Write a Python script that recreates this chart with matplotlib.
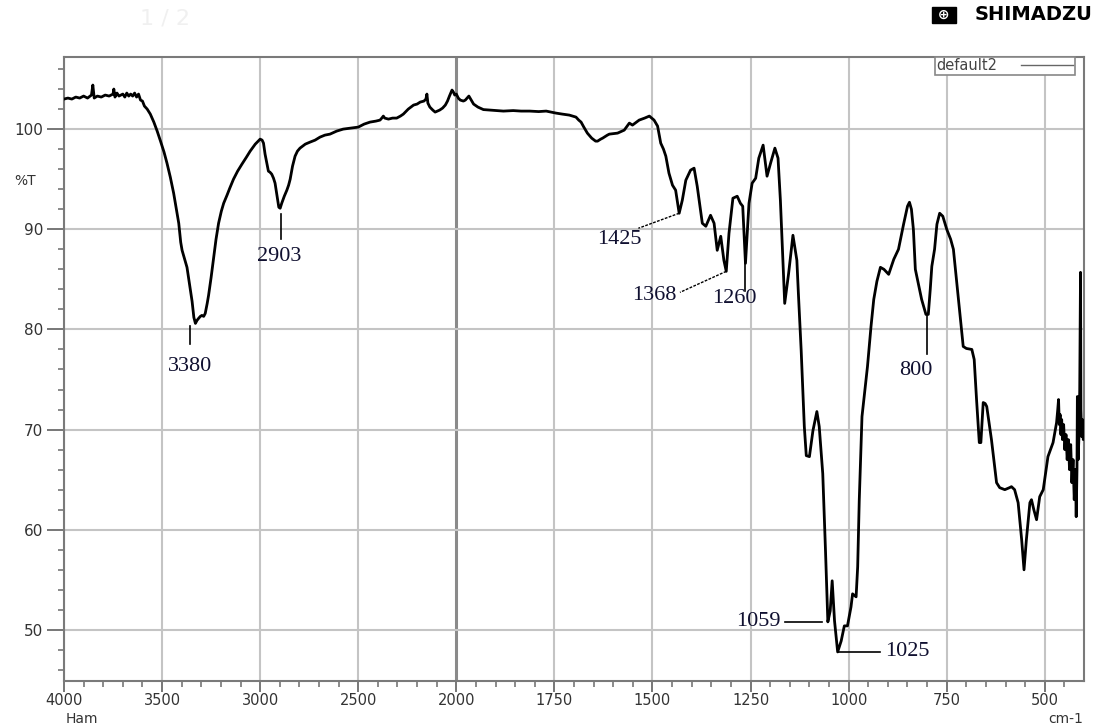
import matplotlib
matplotlib.use("Agg")
import matplotlib.pyplot as plt
import numpy as np
from matplotlib.lines import Line2D
from matplotlib.ticker import FixedLocator, NullFormatter

# FTIR spectrum (wavenumber cm-1, %T)
wavenumber = [
    4000, 3980, 3960, 3940, 3920, 3900, 3880, 3860, 3853, 3846, 3830, 3810,
    3790, 3770, 3750, 3746, 3740, 3730, 3720, 3700, 3690, 3680, 3670, 3660,
    3650, 3640, 3630, 3620, 3610, 3600, 3590, 3576, 3560, 3542, 3525, 3508,
    3490, 3475, 3458, 3441, 3428, 3415, 3405, 3398, 3385, 3373, 3360, 3347,
    3338, 3330, 3322, 3314, 3305, 3297, 3288, 3280, 3270, 3263, 3250, 3237,
    3225, 3212, 3198, 3186, 3175, 3169, 3155, 3136, 3115, 3093, 3070, 3051,
    3025, 3000, 2990, 2983, 2975, 2966, 2958, 2950, 2941, 2932, 2924, 2914,
    2905, 2898, 2890, 2877, 2864, 2855, 2847, 2835, 2822, 2810, 2797, 2770,
    2746, 2720, 2695, 2670, 2644, 2610, 2577, 2540, 2500, 2470, 2440, 2410,
    2389, 2380, 2372, 2365, 2346, 2325, 2304, 2285, 2270, 2245, 2218, 2200,
    2184, 2165, 2155, 2150, 2145, 2135, 2120, 2108, 2085, 2070, 2056, 2045,
    2035, 2022, 2015, 2008, 2000, 1995, 1990, 1982, 1977, 1968, 1962, 1956,
    1945, 1931, 1915, 1897, 1880, 1855, 1835, 1813, 1790, 1771, 1758, 1746,
    1730, 1712, 1703, 1695, 1688, 1682, 1675, 1666, 1655, 1645, 1640, 1632,
    1627, 1615, 1610, 1589, 1572, 1559, 1551, 1534, 1520, 1508, 1496, 1487,
    1479, 1472, 1466, 1458, 1449, 1441, 1432, 1424, 1415, 1403, 1394, 1386,
    1378, 1373, 1364, 1352, 1343, 1335, 1326, 1318, 1312, 1305, 1295, 1284,
    1276, 1270, 1263, 1254, 1246, 1237, 1229, 1218, 1208, 1199, 1188, 1180,
    1174, 1163, 1153, 1142, 1132, 1128, 1121, 1113, 1108, 1100, 1091, 1081,
    1075, 1066, 1059, 1053, 1047, 1042, 1036, 1028, 1019, 1011, 1003, 994,
    990, 981, 977, 973, 966, 952, 943, 936, 928, 919, 910, 898,
    885, 873, 860, 850, 845, 840, 835, 830, 822, 814, 803, 797,
    792, 788, 781, 775, 768, 760, 750, 740, 733, 720, 708, 700,
    686, 680, 674, 667, 663, 657, 652, 648, 636, 623, 615, 602,
    590, 585, 577, 568, 559, 553, 547, 538, 534, 528, 521, 513,
    504, 492, 479, 470, 467, 465, 463, 461, 459, 457, 455, 452,
    449, 446, 443, 440, 437, 434, 431, 428, 425, 422, 420, 418,
    417, 415, 413, 411, 409, 408, 406, 404, 402, 400,
]
transmittance = [
    103.0, 103.1, 103.0, 103.2, 103.1, 103.3, 103.1, 103.4, 104.4, 103.1, 103.3, 103.2,
    103.4, 103.3, 103.5, 104.0, 103.2, 103.6, 103.3, 103.5, 103.2, 103.6, 103.3, 103.5,
    103.3, 103.6, 103.2, 103.5, 102.9, 102.8, 102.3, 102.0, 101.5, 100.7, 99.8, 98.8,
    97.7, 96.6, 95.2, 93.6, 92.1, 90.6, 88.7, 87.9, 87.0, 86.2, 84.5, 82.8,
    81.2, 80.6, 80.9, 81.1, 81.3, 81.4, 81.3, 81.6, 82.6, 83.4, 85.2, 87.2,
    89.0, 90.6, 91.8, 92.6, 93.1, 93.4, 94.1, 95.0, 95.8, 96.5, 97.2, 97.8,
    98.5, 99.0, 98.9, 98.6, 97.5, 96.6, 95.8, 95.7, 95.5, 95.1, 94.6, 93.3,
    92.2, 92.1, 92.6, 93.3, 93.9, 94.4, 95.0, 96.3, 97.3, 97.8, 98.1, 98.5,
    98.7, 98.9, 99.2, 99.4, 99.5, 99.8, 100.0, 100.1, 100.2, 100.5, 100.7, 100.8,
    100.9, 101.1, 101.3, 101.1, 101.0, 101.1, 101.1, 101.3, 101.5, 102.0, 102.4, 102.5,
    102.7, 102.8, 103.0, 103.5, 102.6, 102.2, 101.9, 101.7, 101.9, 102.1, 102.4, 102.8,
    103.3, 103.9, 103.7, 103.4, 103.5, 103.1, 102.9, 102.8, 102.9, 103.3, 102.9, 102.5,
    102.2, 101.95, 101.9, 101.85, 101.8, 101.85, 101.8, 101.8, 101.75, 101.8, 101.7, 101.6,
    101.5, 101.4, 101.3, 101.2, 100.9, 100.7, 100.2, 99.6, 99.1, 98.8, 98.8, 99.0,
    99.1, 99.4, 99.5, 99.6, 99.9, 100.6, 100.4, 100.9, 101.1, 101.3, 100.9, 100.3,
    98.6, 98.0, 97.3, 95.6, 94.4, 93.9, 91.6, 92.9, 94.9, 95.9, 96.1, 94.3,
    92.0, 90.6, 90.3, 91.4, 90.6, 87.9, 89.3, 86.9, 85.8, 89.6, 93.1, 93.3,
    92.6, 92.3, 86.6, 92.6, 94.6, 95.1, 97.1, 98.4, 95.3, 96.6, 98.1, 97.1,
    92.9, 82.6, 85.6, 89.4, 86.9, 83.5, 77.9, 70.3, 67.4, 67.3, 69.9, 71.8,
    70.3, 65.6, 57.9, 50.8, 51.9, 54.9, 50.9, 47.8, 48.9, 50.4, 50.4, 52.3,
    53.6, 53.3, 56.3, 62.9, 71.3, 76.3, 80.3, 83.0, 84.8, 86.2, 86.0, 85.5,
    87.0, 88.0, 90.5, 92.3, 92.7, 92.0, 90.0, 86.0, 84.5, 83.0, 81.5, 81.5,
    84.0, 86.3, 88.0, 90.5, 91.6, 91.3, 90.0, 89.0, 88.0, 83.0, 78.3, 78.1,
    78.0, 77.0, 73.0, 68.7, 68.7, 72.7, 72.6, 72.3, 69.0, 64.7, 64.2, 64.0,
    64.2, 64.3, 64.0, 62.7, 59.0, 56.0, 59.0, 62.7, 63.0, 62.0, 61.0, 63.3,
    64.0, 67.3, 68.7, 70.7, 72.0, 73.0, 70.5, 71.5, 69.5, 71.0, 69.0, 70.5,
    68.0, 69.5, 67.0, 69.0, 66.0, 68.5, 64.7, 67.0, 63.0, 66.0, 61.3, 66.0,
    73.3, 67.0, 69.3, 74.0, 85.7, 72.0, 69.3, 71.0, 69.0, 69.3,
]

x_major = [4000, 3500, 3000, 2500, 2000, 1750, 1500, 1250, 1000, 750, 500]
y_major = [50, 60, 70, 80, 90, 100]
peak_labels = ["3380", "2903", "1425", "1368", "1260", "1059", "1025", "800"]


def fwd(x):
    # 4000-2000 at 500 cm-1 per division, 2000-400 at 250 cm-1 per division
    x = np.asarray(x, dtype=float)
    return np.where(x >= 2000, x / 500.0, x / 250.0 - 4.0)


def inv(p):
    p = np.asarray(p, dtype=float)
    return np.where(p >= 4, p * 500.0, (p + 4.0) * 250.0)


fig = plt.figure(figsize=(10.94, 7.28), dpi=100)
ax = fig.add_axes([0.0585, 0.0646, 0.9324, 0.8571])
ax.set_xscale("function", functions=(fwd, inv))

ax.plot(wavenumber, transmittance, color="black", lw=2.0, zorder=3, solid_joinstyle="round")

ax.set_xlim(4000, 400)
ax.set_ylim(44.9, 107.2)

minor_x = list(range(3900, 2000, -100)) + list(range(1950, 400, -50))
ax.xaxis.set_major_locator(FixedLocator(x_major))
ax.xaxis.set_minor_locator(FixedLocator(minor_x))
ax.set_xticklabels([str(v) for v in x_major])
ax.xaxis.set_minor_formatter(NullFormatter())
ax.yaxis.set_major_locator(FixedLocator(y_major))
ax.yaxis.set_minor_locator(FixedLocator(list(range(46, 108, 2))))
ax.set_yticklabels([str(v) for v in y_major])

grid_c = "#c4c4c4"
for v in x_major:
    if v == 2000:
        ax.axvline(v, color="#8a8a8a", lw=2.2, zorder=1)
    else:
        ax.axvline(v, color=grid_c, lw=1.5, zorder=1)
for v in y_major:
    ax.axhline(v, color=grid_c, lw=1.5, zorder=1)

for s in ax.spines.values():
    s.set_color("#7a7a7a")
    s.set_linewidth(1.5)

ax.tick_params(axis="y", which="major", direction="out", length=12, width=1.4,
               color="#777777", labelsize=11, labelcolor="#333333", pad=3)
ax.tick_params(axis="x", which="major", direction="out", length=8, width=1.4,
               color="#777777", labelsize=10.5, labelcolor="#333333", pad=0.5)
ax.tick_params(axis="both", which="minor", direction="out", length=4.5, width=1.2,
               color="#777777")

fig.text(25 / 1094, 1 - 181 / 728, "%T", ha="center", va="center",
         fontsize=10, color="#333333")
fig.text(82 / 1094, 1 - 719 / 728, "Ham", ha="center", va="center",
         fontsize=10, color="#333333")
fig.text(1066 / 1094, 1 - 719 / 728, "cm-1", ha="center", va="center",
         fontsize=10, color="#333333")

# header
fig.text(1 - 2 / 1094, 1 - 15 / 728, "SHIMADZU", ha="right", va="center",
         fontsize=14, fontweight="bold", color="black")
fig.text(944 / 1094, 1 - 15 / 728, " \u2295 ", ha="center", va="center",
         fontsize=10, color="white", fontweight="bold",
         bbox=dict(boxstyle="square,pad=0.1", facecolor="black", edgecolor="black"))
fig.text(165 / 1094, 1 - 18 / 728, "1 / 2", ha="center", va="center",
         fontsize=16, color="#f0f0f0")

leg = ax.legend(handles=[Line2D([0], [0], color="#666666", lw=1.0)], labels=["default2"],
                loc="upper right", bbox_to_anchor=(0.991, 1.0), markerfirst=False,
                fancybox=False, framealpha=1, edgecolor="#888888", fontsize=10.5,
                borderpad=0.1, handlelength=3.6, borderaxespad=0, handletextpad=1.6)
leg.get_frame().set_linewidth(1.2)
for t in leg.get_texts():
    t.set_color("#444444")

# peak annotations
lab_kw = dict(fontsize=16, color="#101030", family="Liberation Serif", zorder=5)
ln_kw = dict(color="black", lw=1.2, zorder=4)

ax.plot([3356, 3356], [80.3, 78.5], **ln_kw)
ax.text(3356, 76.3, peak_labels[0], ha="center", va="center", **lab_kw)

ax.plot([2896, 2896], [91.5, 89.0], **ln_kw)
ax.text(2905, 87.3, peak_labels[1], ha="center", va="center", **lab_kw)

ax.plot([1432, 1536], [91.6, 90.1], color="black", lw=1.0, ls=(0, (2, 1)), zorder=4)
ax.text(1584, 89.0, peak_labels[2], ha="center", va="center", **lab_kw)

ax.plot([1312, 1430], [85.8, 83.7], color="black", lw=1.0, ls=(0, (2, 1)), zorder=4)
ax.text(1495, 83.4, peak_labels[3], ha="center", va="center", **lab_kw)

ax.plot([1263, 1263], [86.6, 83.8], **ln_kw)
ax.text(1291, 83.1, peak_labels[4], ha="center", va="center", **lab_kw)

ax.plot([1161, 1069], [50.8, 50.8], **ln_kw)
ax.text(1173, 50.8, peak_labels[5], ha="right", va="center", **lab_kw)

ax.plot([1028, 921], [47.8, 47.8], **ln_kw)
ax.text(906, 47.8, peak_labels[6], ha="left", va="center", **lab_kw)

ax.plot([801, 801], [81.4, 77.5], **ln_kw)
ax.text(829, 75.9, peak_labels[7], ha="center", va="center", **lab_kw)

fig.savefig("out.png", dpi=100, facecolor="white")
